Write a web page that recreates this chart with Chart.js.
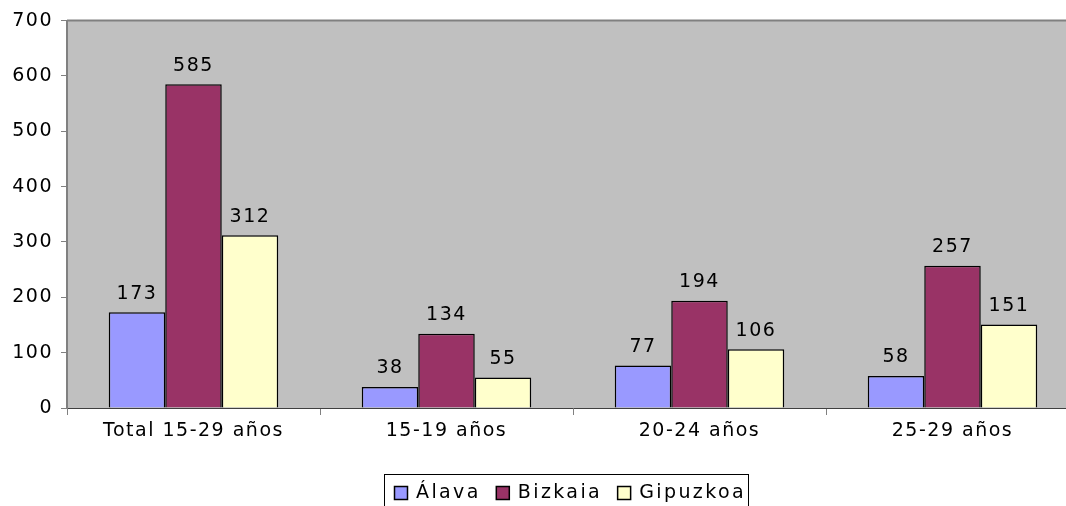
<!DOCTYPE html>
<html lang="es">
<head>
<meta charset="UTF-8">
<title>Jóvenes por territorio</title>
<script src="https://cdn.jsdelivr.net/npm/chart.js"></script>
<style>
  html, body { margin: 0; padding: 0; background: #fff; overflow: hidden; }
  /* el area de trazado del original se corta por la derecha */
  #contenedor { width: 1079px; height: 506px; }
</style>
</head>
<body>
<div id="contenedor"><canvas id="grafico"></canvas></div>
<script>
  // datos
  const categorias = ['Total 15-29 años', '15-19 años', '20-24 años', '25-29 años'];
  const territorios = ['Álava', 'Bizkaia', 'Gipuzkoa'];
  const valoresAlava = [173, 38, 77, 58];
  const valoresBizkaia = [585, 134, 194, 257];
  const valoresGipuzkoa = [312, 55, 106, 151];
  const colores = ['#9999FF', '#993366', '#FFFFCC'];

  const fuente = { family: 'DejaVu Sans', size: 19 };
  const espaciado = '1.5px';

  // el texto del original va un poco espaciado
  const espaciar = {
    id: 'espaciar',
    beforeUpdate(chart) { chart.ctx.letterSpacing = espaciado; },
    beforeDraw(chart) { chart.ctx.letterSpacing = espaciado; }
  };

  // fondo gris del area de trazado
  const fondoArea = {
    id: 'fondoArea',
    beforeDraw(chart) {
      const { ctx, chartArea: a } = chart;
      ctx.save();
      ctx.fillStyle = '#C0C0C0';
      ctx.fillRect(a.left, a.top, a.right - a.left, a.bottom - a.top);
      ctx.strokeStyle = '#808080';
      ctx.lineWidth = 2;
      ctx.beginPath();
      ctx.moveTo(a.left, a.top);
      ctx.lineTo(a.right, a.top);
      ctx.stroke();
      ctx.restore();
    }
  };

  // etiquetas de valor encima de cada barra
  const etiquetas = {
    id: 'etiquetas',
    afterDatasetsDraw(chart) {
      const ctx = chart.ctx;
      ctx.save();
      ctx.fillStyle = '#000';
      ctx.font = fuente.size + 'px ' + fuente.family;
      ctx.textAlign = 'center';
      ctx.textBaseline = 'bottom';
      chart.data.datasets.forEach((ds, i) => {
        chart.getDatasetMeta(i).data.forEach((barra, j) => {
          ctx.fillText(ds.data[j], barra.x, barra.y - 9);
        });
      });
      ctx.restore();
    }
  };

  // leyenda dibujada a mano, con marco, como en el original
  const leyenda = {
    id: 'leyenda',
    afterDraw(chart) {
      const ctx = chart.ctx;
      ctx.save();
      ctx.font = fuente.size + 'px ' + fuente.family;
      ctx.letterSpacing = '2.4px';
      const caja = 13, hueco = 9, entre = 15;
      const anchos = chart.data.datasets.map(ds => ctx.measureText(ds.label).width);
      const total = anchos.reduce((s, w) => s + w, 0) + anchos.length * (caja + hueco) + entre * (anchos.length - 1);
      const arriba = 474;
      const yCentro = 493;
      let x = Math.round(570 - total / 2);
      ctx.strokeStyle = '#000';
      ctx.lineWidth = 1;
      ctx.strokeRect(x - 9.5, arriba + 0.5, total + 12, 60);
      ctx.textBaseline = 'middle';
      ctx.textAlign = 'left';
      chart.data.datasets.forEach((ds, i) => {
        ctx.fillStyle = ds.backgroundColor;
        ctx.fillRect(x + 0.5, yCentro - caja / 2, caja, caja);
        ctx.lineWidth = 1.5;
        ctx.strokeRect(x + 0.5, yCentro - caja / 2, caja, caja);
        ctx.fillStyle = '#000';
        ctx.fillText(ds.label, x + caja + hueco, yCentro);
        x += caja + hueco + anchos[i] + entre;
      });
      ctx.restore();
    }
  };

  const valores = [valoresAlava, valoresBizkaia, valoresGipuzkoa];

  new Chart(document.getElementById('grafico'), {
    type: 'bar',
    data: {
      labels: categorias,
      datasets: territorios.map((t, i) => ({
        label: t,
        data: valores[i],
        backgroundColor: colores[i],
        borderColor: '#000',
        borderWidth: 1.5,
        categoryPercentage: 0.67,
        barPercentage: 1
      }))
    },
    options: {
      responsive: true,
      maintainAspectRatio: false,
      animation: false,
      layout: { padding: { top: 20.6, right: 0, left: 0, bottom: 43 } },
      plugins: {
        tooltip: { enabled: false },
        legend: { display: false }
      },
      scales: {
        x: {
          grid: { drawOnChartArea: false, drawTicks: true, tickLength: 7, color: '#808080' },
          border: { color: '#404040', width: 1 },
          ticks: { color: '#000', font: fuente, padding: 5 },
          afterFit(s) { s.height = 55; }
        },
        y: {
          min: 0,
          max: 700,
          grid: { drawOnChartArea: false, drawTicks: true, tickLength: 6, color: '#808080' },
          border: { color: '#808080', width: 2 },
          ticks: { stepSize: 100, color: '#000', font: fuente, padding: 8 },
          afterFit(s) { s.width = 67; }
        }
      }
    },
    plugins: [espaciar, fondoArea, etiquetas, leyenda]
  });
</script>
</body>
</html>
